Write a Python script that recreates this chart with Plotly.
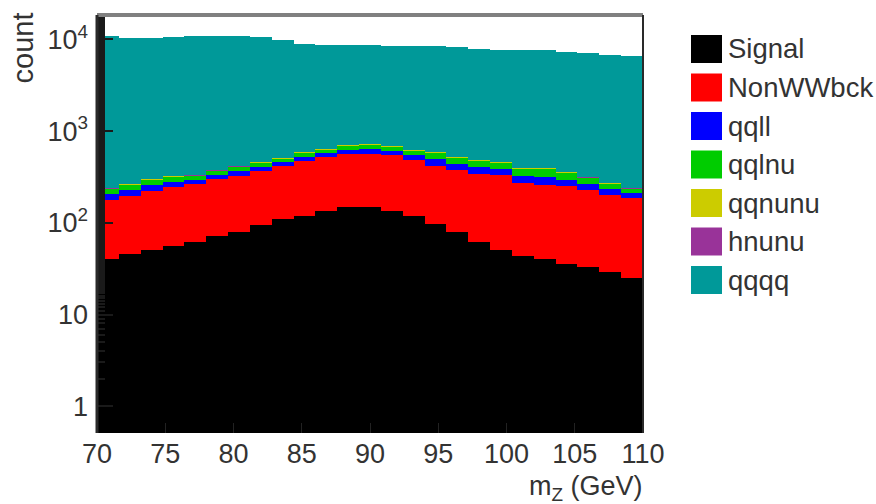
import plotly.graph_objects as go

# Binning of the reconstructed mass (GeV)
x_min = 70.0
x_max = 110.0
n_bins = 25

# Per-bin event counts for each process
signal = [40, 46, 51, 56, 61, 71, 80, 94, 110, 119, 134, 148, 150,
          133, 118, 98, 80, 61, 51, 44, 40, 36, 33, 29, 25]
non_ww_bck = [138, 151, 173, 190, 206, 231, 246, 273, 307, 348, 393, 418, 416,
              417, 370, 320, 297, 282, 282, 229, 216, 214, 196, 173, 162]
qqll = [26, 29, 33, 34, 28, 32, 39, 40, 40, 54, 48, 60, 68,
        60, 58, 74, 62, 60, 55, 52, 60, 46, 37, 30, 22]
qqlnu = [32, 37, 41, 42, 34, 39, 47, 50, 48, 67, 59, 75, 85,
         75, 73, 96, 79, 77, 69, 67, 76, 59, 46, 37, 27]
qqnunu = [3, 3, 3, 3, 3, 3, 4, 4, 4, 5, 5, 5, 6,
          5, 5, 5, 5, 5, 4, 4, 4, 4, 3, 3, 3]
hnunu = [1, 1, 1, 1, 1, 1, 2, 2, 2, 2, 2, 2, 3,
         2, 2, 2, 2, 2, 2, 2, 2, 1, 1, 1, 1]
qqqq = [10760, 10130, 10100, 10170, 10470, 10620, 10480, 10140, 9390, 8400, 8060, 7990, 7870,
        7810, 7870, 7800, 7780, 7410, 7240, 7300, 7200, 6940, 6880, 6530, 6360]

names = ["Signal", "NonWWbck", "qqll", "qqlnu", "qqnunu", "hnunu", "qqqq"]
series = [signal, non_ww_bck, qqll, qqlnu, qqnunu, hnunu, qqqq]
colors = ["#000000", "#ff0000", "#0000ff", "#00cc00", "#cccc00", "#993399", "#009999"]

x_ticks = [70, 75, 80, 85, 90, 95, 100, 105, 110]
y_ticks = [1, 10, 100, 1000, 10000]
y_ticktext = ["1", "10", "10<sup>2</sup>", "10<sup>3</sup>", "10<sup>4</sup>"]

bin_width = (x_max - x_min) / n_bins
centers = [x_min + bin_width * (i + 0.5) for i in range(n_bins)]

# Page geometry (pixels)
W, H = 876, 504
ML, MR, MT, MB = 97, 233, 15, 71
PW = W - ML - MR
PH = H - MT - MB


def px(xp):
    return (xp - ML) / PW


def py(yp):
    return (H - MB - yp) / PH


FONT = "Liberation Sans, Arial, sans-serif"
TXT = "#333333"
FS = 27

fig = go.Figure()
for name, vals, col in zip(names, series, colors):
    fig.add_trace(go.Bar(
        x=centers, y=vals, width=bin_width, name=name,
        marker=dict(color=col, line=dict(width=0)),
        showlegend=False,
    ))

fig.update_layout(
    width=W, height=H,
    margin=dict(l=ML, r=MR, t=MT, b=MB, pad=0),
    paper_bgcolor="white", plot_bgcolor="white",
    barmode="stack", bargap=0,
    font=dict(family=FONT, size=FS, color=TXT),
)

fig.update_xaxes(
    range=[x_min, x_max], tickvals=x_ticks,
    ticks="inside", ticklen=10, tickcolor="#222222",
    tickfont=dict(size=FS, color=TXT), ticklabelstandoff=2,
    showgrid=False, zeroline=False, showline=False,
)
fig.update_yaxes(
    type="log", range=[-0.292, 4.266],
    tickvals=y_ticks, ticktext=y_ticktext,
    ticks="inside", ticklen=16, tickcolor="#1a1a1a", tickwidth=2,
    minor=dict(ticks="inside", ticklen=8, tickcolor="#1a1a1a", tickwidth=2),
    tickfont=dict(size=FS, color=TXT), ticklabelstandoff=8,
    showgrid=False, zeroline=False, showline=False,
)

# Frame
fig.add_shape(type="line", xref="paper", yref="paper", x0=0, x1=1, y0=1, y1=1,
              line=dict(color="#808080", width=4), layer="above")
fig.add_shape(type="line", xref="paper", yref="paper", x0=0, x1=0, y0=0, y1=1,
              line=dict(color="#2a2a2a", width=3), layer="above")
fig.add_shape(type="line", xref="paper", yref="paper", x0=1, x1=1, y0=0, y1=1,
              line=dict(color="#2a2a2a", width=2), layer="above")

# Axis titles
fig.add_annotation(text="count", xref="paper", yref="paper",
                   x=px(23), y=py(11), xanchor="center", yanchor="top",
                   textangle=-90, showarrow=False,
                   font=dict(size=29, color=TXT, family=FONT))
fig.add_annotation(text="m<sub>Z</sub> (GeV)", xref="paper", yref="paper",
                   x=px(645), y=py(507), xanchor="right", yanchor="bottom",
                   showarrow=False, font=dict(size=FS, color=TXT, family=FONT))

# Legend with large colour boxes
leg_top = 49
leg_step = 38.5
for k, (name, col) in enumerate(zip(names, colors)):
    cy = leg_top + k * leg_step
    fig.add_shape(type="rect", xref="paper", yref="paper",
                  x0=px(691), x1=px(722), y0=py(cy - 14), y1=py(cy + 14),
                  fillcolor=col, line=dict(width=0))
    fig.add_annotation(text=name, xref="paper", yref="paper",
                       x=px(726), y=py(cy), xanchor="left", yanchor="middle",
                       showarrow=False, font=dict(size=27.5, color=TXT, family=FONT))

fig.write_html("out.html")
